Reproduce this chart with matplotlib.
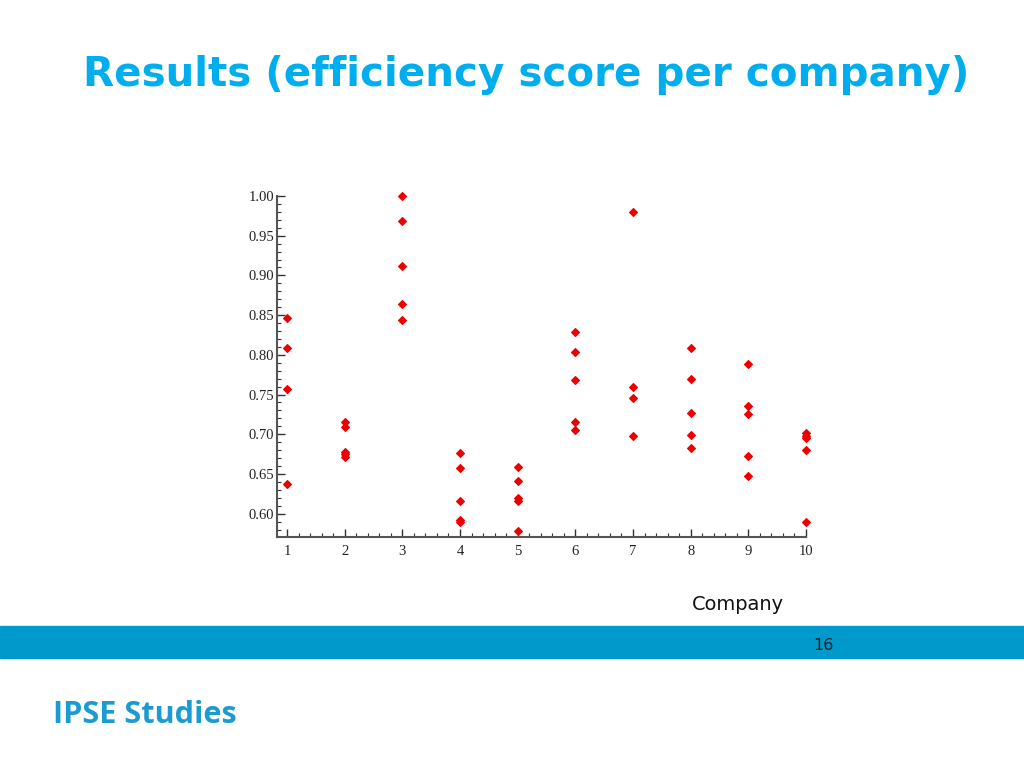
import matplotlib
matplotlib.use("Agg")
import matplotlib.pyplot as plt
from matplotlib.ticker import MultipleLocator, FormatStrFormatter

companies = [1, 2, 3, 4, 5, 6, 7, 8, 9, 10]
scores = {
    1: [0.847, 0.809, 0.757, 0.637],
    2: [0.715, 0.709, 0.678, 0.675, 0.671],
    3: [1.000, 0.969, 0.912, 0.864, 0.844],
    4: [0.677, 0.658, 0.616, 0.592, 0.590],
    5: [0.659, 0.641, 0.620, 0.616, 0.578],
    6: [0.829, 0.803, 0.768, 0.716, 0.705],
    7: [0.980, 0.759, 0.746, 0.698],
    8: [0.808, 0.769, 0.727, 0.699, 0.683],
    9: [0.789, 0.736, 0.725, 0.673, 0.648],
    10: [0.701, 0.698, 0.695, 0.680, 0.589],
}
y_ticks = [0.60, 0.65, 0.70, 0.75, 0.80, 0.85, 0.90, 0.95, 1.00]
title_text = "Results (efficiency score per company)"
xlabel_text = "Company"
page_text = "16"
footer_text = "IPSE Studies"

fig = plt.figure(figsize=(10.24, 7.68), dpi=100)
fig.patch.set_facecolor("white")

ax = fig.add_axes([277/1024, 1-536.7/768, (806-277)/1024, (536.7-196)/768])
xs = []
ys = []
for c in companies:
    for v in scores[c]:
        xs.append(c)
        ys.append(v)
ax.plot(xs, ys, linestyle="none", marker="D", markersize=4.4, color="#ee0000",
        markeredgewidth=0.8, clip_on=False)

ax.set_xlim(0.827, 10.0)
ax.set_ylim(0.571, 1.0)
for s in ["top", "right"]:
    ax.spines[s].set_visible(False)
for s in ["left", "bottom"]:
    ax.spines[s].set_color("#555555")
    ax.spines[s].set_linewidth(1.5)

ax.set_xticks(companies)
ax.set_yticks(y_ticks)
ax.xaxis.set_minor_locator(MultipleLocator(0.2))
ax.yaxis.set_minor_locator(MultipleLocator(0.01))
ax.yaxis.set_major_formatter(FormatStrFormatter("%.2f"))
ax.tick_params(axis="both", which="major", direction="in", length=6, width=1.0,
               color="#333333", labelsize=10.5, labelcolor="#222222", pad=2)
ax.tick_params(axis="both", which="minor", direction="in", length=3, width=0.8,
               color="#333333")
ax.tick_params(axis="x", which="major", pad=6)
for lab in ax.get_xticklabels() + ax.get_yticklabels():
    lab.set_fontfamily("Liberation Serif")

renderer = fig.canvas.get_renderer()


def fit_width(t, target_px, size):
    w = t.get_window_extent(renderer=renderer).width
    t.set_fontsize(size * target_px / w)


title = fig.text(83/1024, 1-75/768, title_text, fontsize=31, fontweight="bold",
                 color="#00aeef", family="DejaVu Sans", ha="left", va="center")
fit_width(title, 885, 31)

xl = fig.text(738/1024, 1-605/768, xlabel_text, fontsize=13, color="#111111",
              family="DejaVu Sans", ha="center", va="center")
fit_width(xl, 92, 13)

bar = plt.Rectangle((0, 1-658/768), 1, 32/768, transform=fig.transFigure,
                    color="#0099cc", zorder=0)
fig.patches.append(bar)

fig.text(823/1024, 1-645/768, page_text, fontsize=11.5, color="#222222",
         family="DejaVu Sans", ha="center", va="center")

foot = fig.text(53/1024, 1-715/768, footer_text, fontsize=21, fontweight="bold",
                color="#1a9bd4", family="Open Sans", ha="left", va="center")
fit_width(foot, 184, 21)

fig.savefig("out.png", dpi=100, facecolor="white")
